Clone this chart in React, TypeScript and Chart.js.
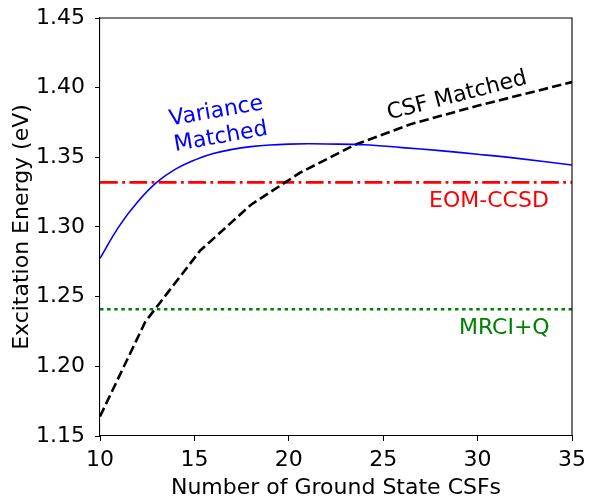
import React, { useEffect, useRef } from "react";
import { Chart, registerables } from "chart.js";

Chart.register(...registerables);

// ---- data ----
const varianceX = [10, 11, 12, 13, 14, 15, 16, 17, 18, 19, 20, 21, 22, 24, 26, 28, 30, 32, 35];
const varianceY = [1.2775, 1.3003, 1.3181, 1.332, 1.3415, 1.348, 1.3527, 1.3557, 1.3577, 1.3589, 1.3595, 1.3597, 1.3596, 1.359, 1.357, 1.3548, 1.3522, 1.3494, 1.3445];
const csfX = [10, 12.4, 15.3, 18, 20.6, 23.5, 26.5, 30, 35];
const csfY = [1.164, 1.232, 1.283, 1.316, 1.339, 1.359, 1.374, 1.387, 1.404];
const eomCcsd = 1.332;
const mrciQ = 1.241;
const xRange = [10, 35];
const yRange = [1.15, 1.45];
const xTicks = [10, 15, 20, 25, 30, 35];
const yTicks = [1.15, 1.2, 1.25, 1.3, 1.35, 1.4, 1.45];

const FONT = "'DejaVu Sans', sans-serif";

type Note = { lines: string[]; x: number; y: number; rot: number; color: string; align: "center" | "left"; base: "middle" | "alphabetic" };
const notes: Note[] = [
  { lines: ["Variance", "Matched"], x: 16.28, y: 1.3736, rot: -10, color: "#0000ff", align: "center", base: "middle" },
  { lines: ["CSF Matched"], x: 28.91, y: 1.394, rot: -14.5, color: "#000000", align: "center", base: "middle" },
  { lines: ["EOM-CCSD"], x: 27.43, y: 1.3144, rot: 0, color: "#ff0000", align: "left", base: "alphabetic" },
  { lines: ["MRCI+Q"], x: 29.01, y: 1.2232, rot: 0, color: "#008000", align: "left", base: "alphabetic" },
];

const framePlugin = {
  id: "frame",
  afterDatasetsDraw(chart: any) {
    const { ctx, chartArea: a, scales } = chart;
    ctx.save();
    ctx.strokeStyle = "#000";
    ctx.lineWidth = 1.1;
    ctx.beginPath();
    ctx.moveTo(a.left, a.top);
    ctx.lineTo(a.right, a.top);
    ctx.lineTo(a.right, a.bottom);
    ctx.stroke();
    ctx.font = `22px ${FONT}`;
    for (const n of notes) {
      const px = scales.x.getPixelForValue(n.x);
      const py = scales.y.getPixelForValue(n.y);
      ctx.save();
      ctx.translate(px, py);
      ctx.rotate((n.rot * Math.PI) / 180);
      ctx.fillStyle = n.color;
      ctx.textAlign = n.align;
      ctx.textBaseline = n.base;
      const lh = 26;
      const off = -((n.lines.length - 1) * lh) / 2;
      n.lines.forEach((t, i) => ctx.fillText(t, 0, off + i * lh));
      ctx.restore();
    }
    ctx.restore();
  },
};

const zeroPad = (s: any) => {
  s.paddingTop = 0;
  s.paddingBottom = 0;
  s.paddingLeft = 0;
  s.paddingRight = 0;
};

export default function App() {
  const ref = useRef<HTMLCanvasElement | null>(null);
  useEffect(() => {
    if (!ref.current) return;
    Chart.defaults.font.family = FONT;
    const chart = new Chart(ref.current, {
      type: "line",
      data: {
        datasets: [
          {
            label: "Variance Matched",
            data: varianceX.map((x, i) => ({ x, y: varianceY[i] })),
            borderColor: "#0000ff",
            borderWidth: 1.6,
            pointRadius: 0,
            tension: 0.4,
            fill: false,
          },
          {
            label: "CSF Matched",
            data: csfX.map((x, i) => ({ x, y: csfY[i] })),
            borderColor: "#000000",
            borderWidth: 2.6,
            borderDash: [9.5, 4.2],
            pointRadius: 0,
            tension: 0,
            fill: false,
          },
          {
            label: "EOM-CCSD",
            data: xRange.map((x) => ({ x, y: eomCcsd })),
            borderColor: "#ff0000",
            borderWidth: 2.6,
            borderDash: [17.8, 4.4, 2.8, 4.4],
            pointRadius: 0,
            fill: false,
          },
          {
            label: "MRCI+Q",
            data: xRange.map((x) => ({ x, y: mrciQ })),
            borderColor: "#008000",
            borderWidth: 2.6,
            borderDash: [3.5, 3.6],
            pointRadius: 0,
            fill: false,
          },
        ],
      },
      options: {
        animation: false,
        responsive: false,
        devicePixelRatio: 1,
        layout: { padding: { left: 0, top: 18, right: 17, bottom: 0 } },
        plugins: { legend: { display: false }, tooltip: { enabled: false } },
        scales: {
          x: {
            type: "linear",
            min: xRange[0],
            max: xRange[1],
            afterBuildTicks: (s: any) => { s.ticks = xTicks.map((v) => ({ value: v })); },
            afterFit: (s: any) => { s.height = 62; zeroPad(s); },
            grid: { display: true, drawOnChartArea: false, drawTicks: true, tickLength: 5, color: "#000", lineWidth: 1 },
            border: { display: true, color: "#000", width: 1.1 },
            ticks: { color: "#000", padding: 6, font: { size: 22 }, maxRotation: 0, callback: (v: any) => String(v) },
            title: { display: true, text: "Number of Ground State CSFs", color: "#000", font: { size: 22, lineHeight: 1 }, padding: { top: 0, bottom: -1 } },
          },
          y: {
            type: "linear",
            min: yRange[0],
            max: yRange[1],
            afterBuildTicks: (s: any) => { s.ticks = yTicks.map((v) => ({ value: v })); },
            afterFit: (s: any) => { s.width = 100; zeroPad(s); },
            grid: { display: true, drawOnChartArea: false, drawTicks: true, tickLength: 5, color: "#000", lineWidth: 1 },
            border: { display: true, color: "#000", width: 1.1 },
            ticks: { color: "#000", padding: 10, font: { size: 22 }, callback: (v: any) => Number(v).toFixed(2) },
            title: { display: true, text: "Excitation Energy (eV)", color: "#000", font: { size: 22, lineHeight: 1.2 }, padding: { top: 9, bottom: 0 } },
          },
        },
      },
      plugins: [framePlugin],
    } as any);
    return () => chart.destroy();
  }, []);
  return (
    <div style={{ position: "fixed", left: 0, top: 0, width: 589, height: 498, background: "#fff" }}>
      <canvas ref={ref} width={589} height={498} style={{ display: "block", width: 589, height: 498 }} />
    </div>
  );
}
